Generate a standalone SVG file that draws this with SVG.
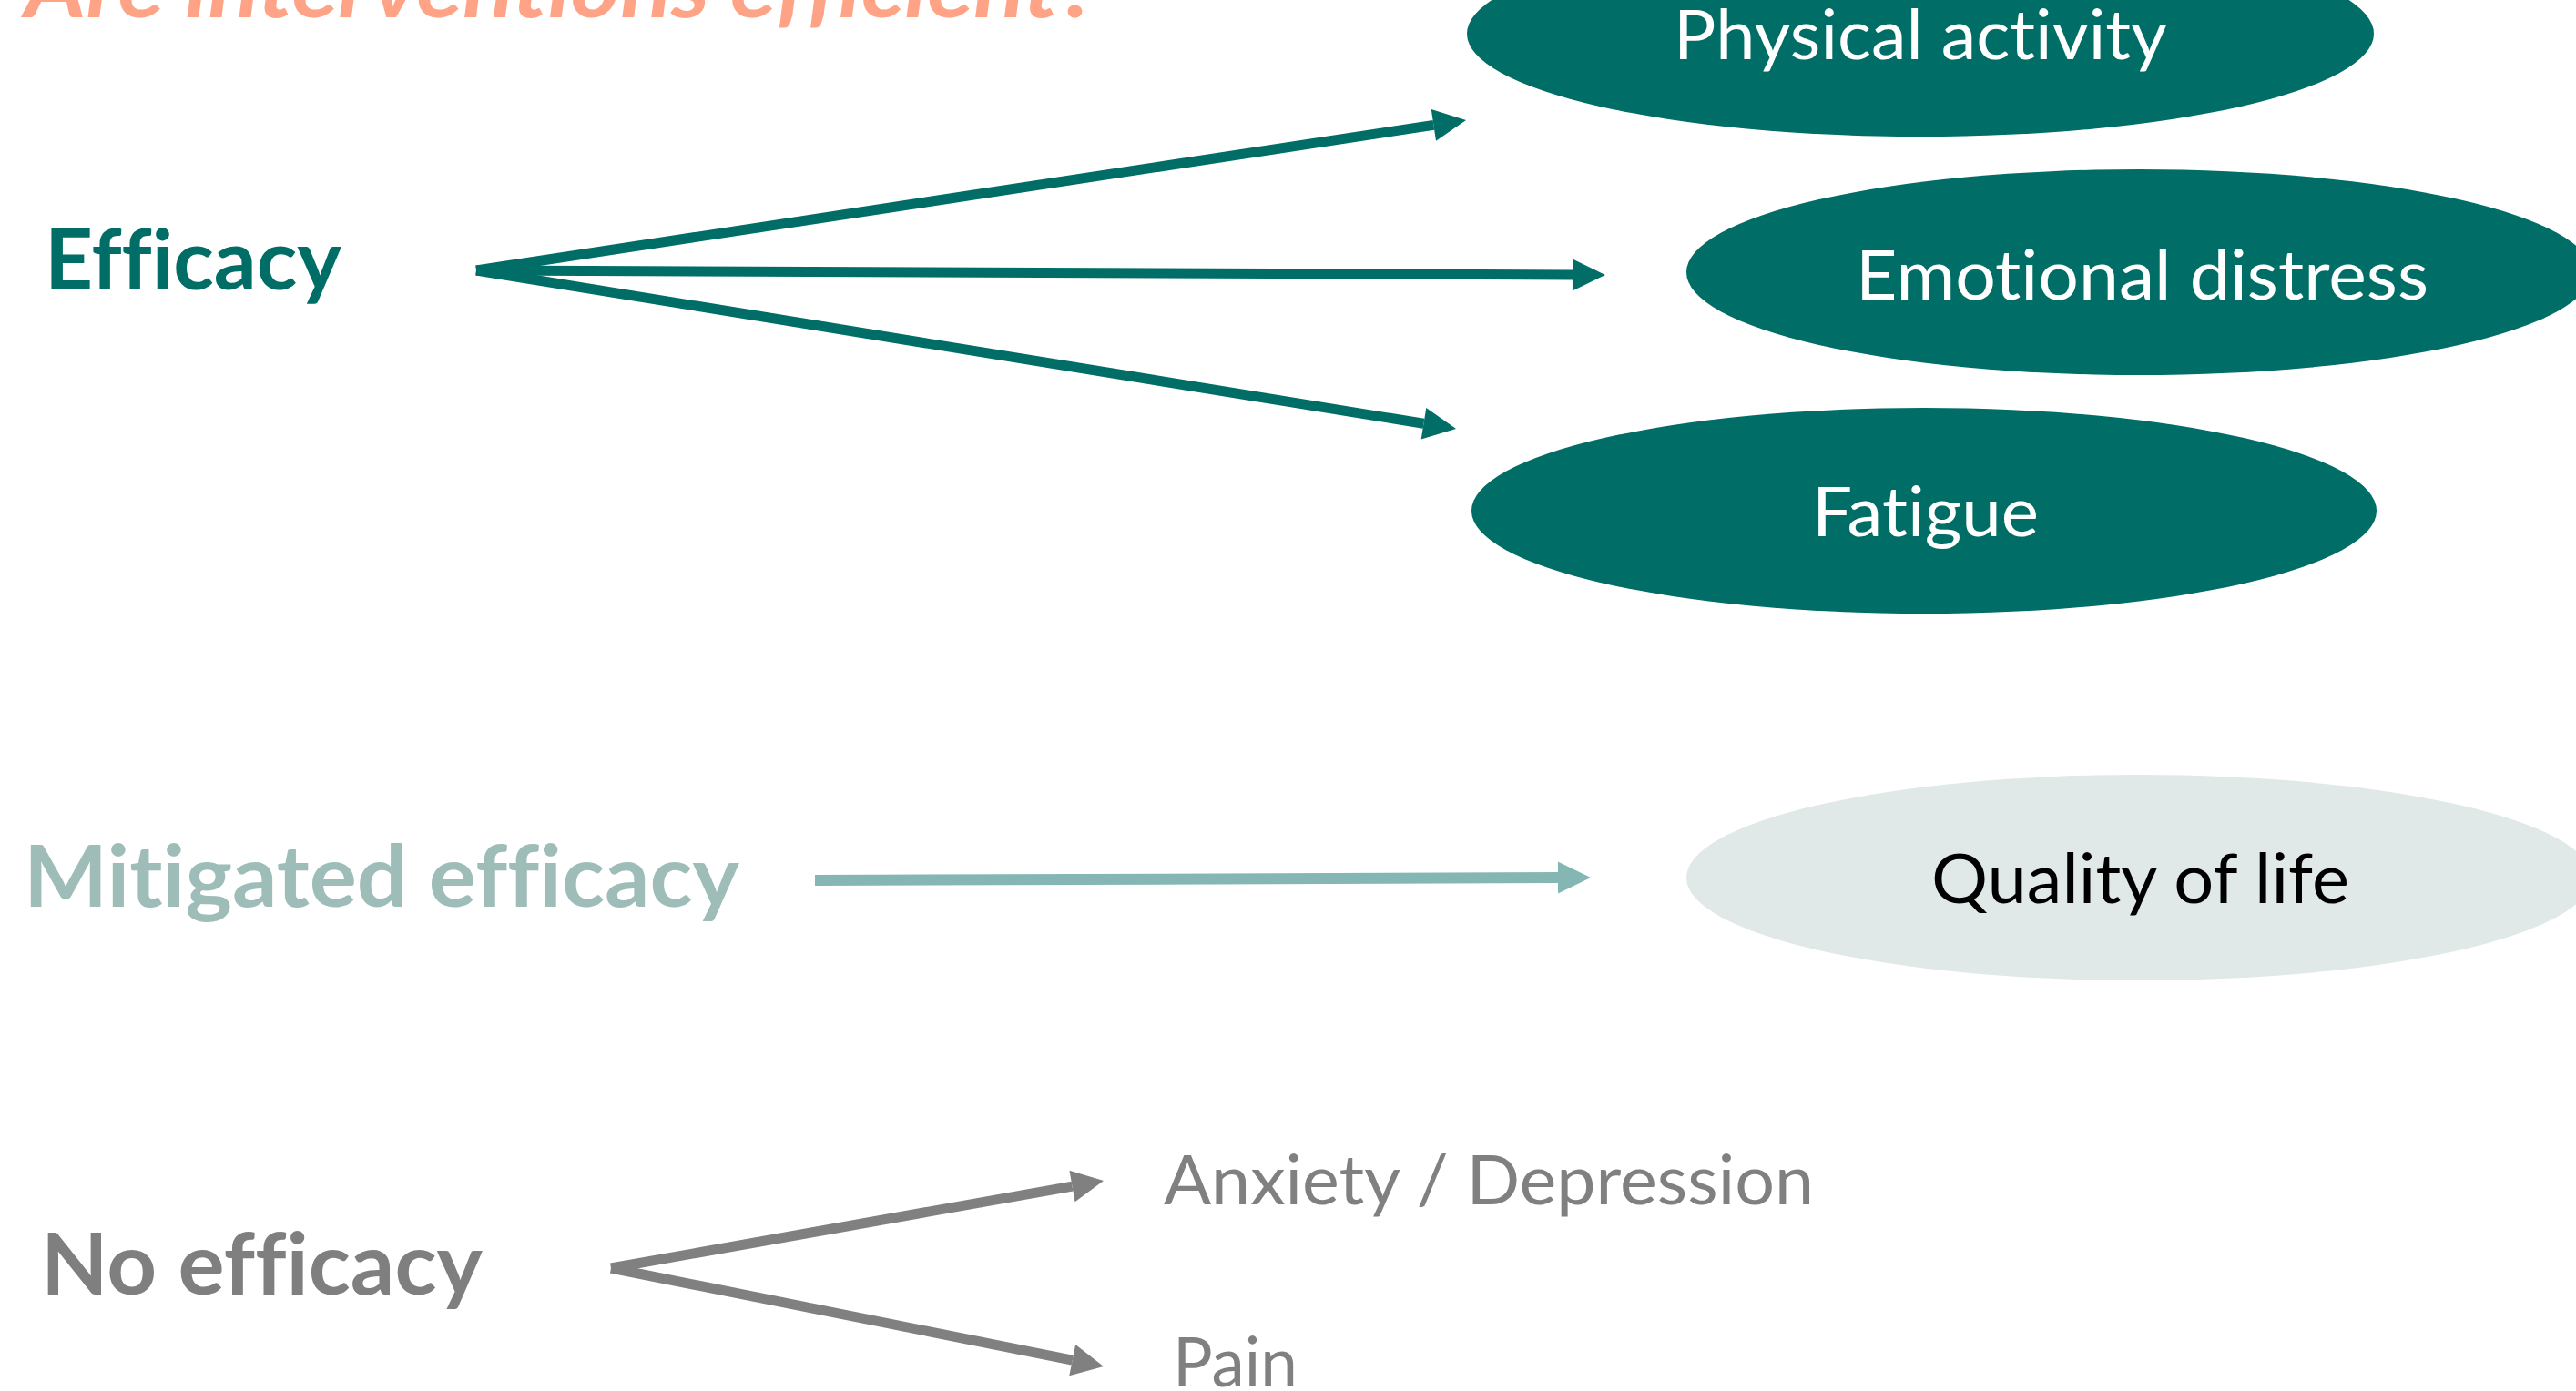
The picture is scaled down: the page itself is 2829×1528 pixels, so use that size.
<svg xmlns="http://www.w3.org/2000/svg" width="2829" height="1528" viewBox="0 0 2829 1528">
<defs>
<style>
.lbl{font-family:Lato,"Open Sans","Liberation Sans",sans-serif;font-variant-ligatures:none;font-feature-settings:"liga" 0,"clig" 0,"dlig" 0;}
.b{font-weight:700;}
.r{font-weight:400;}
.teal{fill:#006E66;}
.tl{stroke:#006E66;stroke-width:11;fill:none;}
.ml{stroke:#84B7B4;stroke-width:12;fill:none;}
.gl{stroke:#808080;stroke-width:11;fill:none;}
.wt{fill:#FFFFFF;font-size:76px;}
</style>
<marker id="ahT" markerUnits="userSpaceOnUse" markerWidth="40" markerHeight="40" viewBox="0 -20 40 40" refX="0" refY="0" orient="auto" overflow="visible"><path d="M0,-17.5 L36,0 L0,17.5 Z" fill="#006E66"/></marker>
<marker id="ahM" markerUnits="userSpaceOnUse" markerWidth="40" markerHeight="40" viewBox="0 -20 40 40" refX="0" refY="0" orient="auto" overflow="visible"><path d="M0,-17.5 L36,0 L0,17.5 Z" fill="#84B7B4"/></marker>
<marker id="ahG" markerUnits="userSpaceOnUse" markerWidth="40" markerHeight="40" viewBox="0 -20 40 40" refX="0" refY="0" orient="auto" overflow="visible"><path d="M0,-17.5 L35,0 L0,17.5 Z" fill="#808080"/></marker>
</defs>
<rect width="2829" height="1528" fill="#FFFFFF"/>

<g id="title">
<text class="lbl b" x="27" y="19" font-size="93" font-style="italic" fill="#FFA386" textLength="1180" lengthAdjust="spacingAndGlyphs">Are interventions efficient?</text>
</g>

<g id="efficacy">
<text class="lbl b" x="49" y="318" font-size="92" fill="#006E66" textLength="326" lengthAdjust="spacingAndGlyphs">Efficacy</text>
</g>
<g id="mitigated">
<text class="lbl b" x="26" y="996" font-size="93" fill="#9FBDB8" textLength="786" lengthAdjust="spacingAndGlyphs">Mitigated efficacy</text>
</g>
<g id="noefficacy">
<text class="lbl b" x="45" y="1422" font-size="93" fill="#7F7F7F" textLength="485" lengthAdjust="spacingAndGlyphs">No efficacy</text>
</g>

<g id="physical">
<ellipse cx="2109" cy="37" rx="498" ry="113" class="teal"/>
<text class="lbl r wt" x="1838" y="65" textLength="542" lengthAdjust="spacingAndGlyphs">Physical activity</text>
</g>
<g id="emotional">
<ellipse cx="2349" cy="299" rx="497" ry="113" class="teal"/>
<text class="lbl r wt" x="2038" y="329" textLength="629" lengthAdjust="spacingAndGlyphs">Emotional distress</text>
</g>
<g id="fatigue">
<ellipse cx="2113" cy="561" rx="497" ry="113" class="teal"/>
<text class="lbl r wt" x="1990" y="589" textLength="249" lengthAdjust="spacingAndGlyphs">Fatigue</text>
</g>
<g id="quality">
<ellipse cx="2349" cy="964" rx="497" ry="113" fill="#E0E9E8"/>
<text class="lbl r" x="2121" y="992" font-size="76" fill="#000000" textLength="459" lengthAdjust="spacingAndGlyphs">Quality of life</text>
</g>
<g id="anxiety">
<text class="lbl r" x="1278" y="1323" font-size="76" fill="#808080" textLength="714" lengthAdjust="spacingAndGlyphs">Anxiety / Depression</text>
</g>
<g id="pain">
<text class="lbl r" x="1288" y="1523" font-size="76" fill="#808080" textLength="137" lengthAdjust="spacingAndGlyphs">Pain</text>
</g>

<g id="connectors">
<line class="tl" x1="523" y1="297" x2="1574.4" y2="137.4" marker-end="url(#ahT)"/>
<line class="tl" x1="523" y1="297" x2="1727" y2="301.9" marker-end="url(#ahT)"/>
<line class="tl" x1="523" y1="297" x2="1563.5" y2="465.3" marker-end="url(#ahT)"/>
<line class="ml" x1="895" y1="967" x2="1711" y2="964.1" marker-end="url(#ahM)"/>
<line class="gl" x1="671" y1="1393" x2="1177.5" y2="1303.1" marker-end="url(#ahG)"/>
<line class="gl" x1="671" y1="1393" x2="1177.7" y2="1494.1" marker-end="url(#ahG)"/>
</g>
</svg>
